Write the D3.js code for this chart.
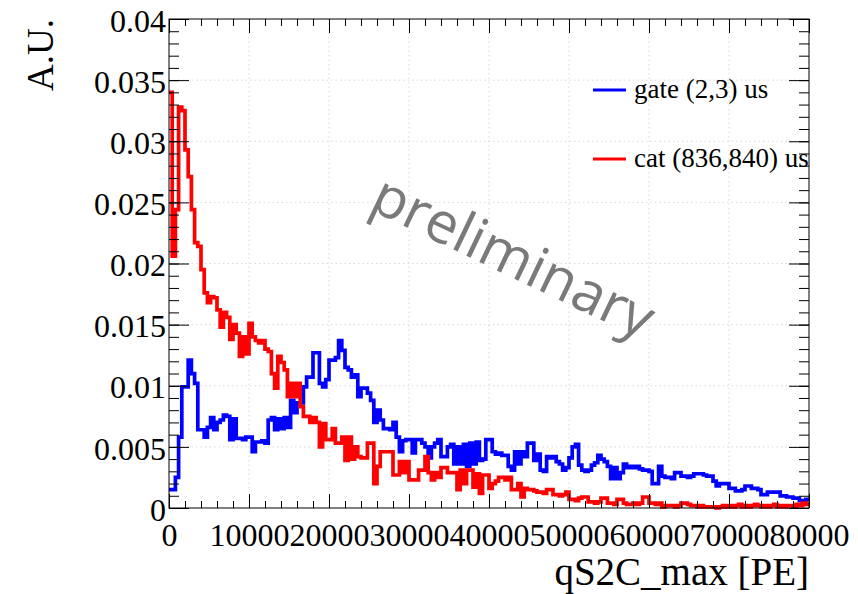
<!DOCTYPE html>
<html><head><meta charset="utf-8">
<script src="https://cdn.jsdelivr.net/npm/d3@7"></script>
<style>html,body{margin:0;padding:0;background:#fff;}svg{display:block;}</style>
</head><body>
<svg id="c" width="858" height="594"></svg>
<script>
// ---- data ----
const binStart = 0, binWidth = 400; // qS2C_max bins [PE]
const gateValues = [
0.0015,0.0015,0.0025,0.0058,0.0099,0.0099,0.0121,0.0110,0.0102,0.0064,
0.0064,0.0058,0.0066,0.0074,0.0064,0.0070,0.0072,0.0076,0.0075,0.0056,
0.0073,0.0057,0.0057,0.0056,0.0058,0.0058,0.0046,0.0054,0.0054,0.0055,
0.0053,0.0072,0.0074,0.0064,0.0073,0.0065,0.0074,0.0066,0.0088,0.0078,
0.0086,0.0086,0.0099,0.0107,0.0107,0.0127,0.0127,0.0102,0.0099,0.0105,
0.0121,0.0121,0.0123,0.0137,0.0129,0.0115,0.0113,0.0107,0.0109,0.0091,
0.0098,0.0098,0.0094,0.0088,0.0070,0.0080,0.0072,0.0065,0.0065,0.0064,
0.0070,0.0058,0.0046,0.0055,0.0056,0.0056,0.0045,0.0056,0.0056,0.0053,
0.0050,0.0041,0.0050,0.0053,0.0056,0.0042,0.0042,0.0050,0.0052,0.0036,
0.0050,0.0036,0.0052,0.0034,0.0053,0.0036,0.0054,0.0039,0.0040,0.0056,
0.0056,0.0046,0.0044,0.0045,0.0043,0.0043,0.0034,0.0031,0.0046,0.0036,
0.0046,0.0042,0.0053,0.0053,0.0039,0.0044,0.0031,0.0030,0.0042,0.0041,
0.0042,0.0038,0.0036,0.0031,0.0033,0.0041,0.0050,0.0052,0.0035,0.0031,
0.0030,0.0031,0.0035,0.0037,0.0043,0.0040,0.0038,0.0034,0.0024,0.0033,
0.0024,0.0029,0.0036,0.0033,0.0034,0.0033,0.0034,0.0032,0.0031,0.0031,
0.0030,0.0020,0.0020,0.0034,0.0026,0.0025,0.0025,0.0024,0.0029,0.0029,
0.0026,0.0026,0.0025,0.0026,0.0028,0.0028,0.0028,0.0027,0.0026,0.0026,
0.0022,0.0018,0.0020,0.0020,0.0020,0.0016,0.0016,0.0014,0.0014,0.0015,
0.0018,0.0018,0.0016,0.0016,0.0015,0.0011,0.0011,0.0013,0.0013,0.0013,
0.0013,0.0010,0.0010,0.0009,0.0009,0.0008,0.0008,0.0006,0.0005,0.0007
];
const catValues = [
0.0340,0.0206,0.0244,0.0328,0.0325,0.0293,0.0271,0.0244,0.0217,0.0214,
0.0195,0.0176,0.0168,0.0173,0.0172,0.0162,0.0148,0.0160,0.0156,0.0138,
0.0150,0.0143,0.0124,0.0140,0.0126,0.0151,0.0140,0.0137,0.0135,0.0137,
0.0130,0.0128,0.0110,0.0098,0.0124,0.0119,0.0113,0.0091,0.0102,0.0091,
0.0102,0.0083,0.0075,0.0075,0.0070,0.0074,0.0070,0.0050,0.0069,0.0056,
0.0056,0.0065,0.0053,0.0053,0.0058,0.0039,0.0058,0.0040,0.0050,0.0042,
0.0041,0.0041,0.0053,0.0053,0.0020,0.0034,0.0046,0.0046,0.0046,0.0046,
0.0027,0.0027,0.0038,0.0029,0.0038,0.0023,0.0023,0.0023,0.0031,0.0031,
0.0042,0.0029,0.0023,0.0029,0.0025,0.0033,0.0033,0.0029,0.0029,0.0029,
0.0015,0.0031,0.0020,0.0031,0.0031,0.0017,0.0028,0.0012,0.0027,0.0027,
0.0016,0.0020,0.0022,0.0025,0.0025,0.0023,0.0025,0.0015,0.0015,0.0020,
0.0009,0.0016,0.0015,0.0015,0.0014,0.0013,0.0013,0.0012,0.0015,0.0015,
0.0011,0.0011,0.0010,0.0011,0.0013,0.0007,0.0007,0.0006,0.0008,0.0009,
0.0009,0.0005,0.0005,0.0004,0.0005,0.0008,0.0008,0.0004,0.0004,0.0003,
0.0007,0.0007,0.0004,0.0003,0.0003,0.0004,0.0003,0.0004,0.0009,0.0009,
0.0004,0.0004,0.0003,0.0004,0.0001,0.0002,0.0002,0.0002,0.0001,0.0002,
0.0004,0.0004,0.0003,0.0002,0.0002,0.0001,0.0002,0.0001,0.0001,0.0001,
0.0001,0.0000,0.0001,0.0002,0.0001,0.0002,0.0001,0.0002,0.0003,0.0001,
0.0002,0.0001,0.0002,0.0003,0.0002,0.0001,0.0002,0.0001,0.0002,0.0003,
0.0001,0.0002,0.0001,0.0002,0.0002,0.0001,0.0003,0.0002,0.0004,0.0003
];
const xTicks = [0,10000,20000,30000,40000,50000,60000,70000,80000];
const xTickLabels = ["0","10000","20000","30000","40000","50000","60000","70000","80000"];
const yTicks = [0,0.005,0.01,0.015,0.02,0.025,0.03,0.035,0.04];
const yTickLabels = ["0","0.005","0.01","0.015","0.02","0.025","0.03","0.035","0.04"];
const seriesNames = ["gate (2,3) us","cat (836,840) us"];
const seriesColors = ["#0000ff","#ff0000"];

// ---- layout ----
const L = 169, R = 809, T = 19, B = 508;
const svg = d3.select("#c");
const x = d3.scaleLinear().domain([0,80000]).range([L,R]);
const y = d3.scaleLinear().domain([0,0.04]).range([B,T]);
const serif = "Liberation Serif, Times New Roman, Times, serif";

// grid
const g = svg.append("g");
g.selectAll("line.gx").data(xTicks.slice(1,-1)).join("line")
 .attr("x1",d=>x(d)).attr("x2",d=>x(d)).attr("y1",T).attr("y2",B)
 .attr("stroke","#d8d8d8").attr("stroke-width",1).attr("stroke-dasharray","1.5,3");
g.selectAll("line.gy").data(yTicks.slice(1,-1)).join("line")
 .attr("y1",d=>y(d)).attr("y2",d=>y(d)).attr("x1",L).attr("x2",R)
 .attr("stroke","#d8d8d8").attr("stroke-width",1).attr("stroke-dasharray","1.5,3");

// histograms
function pts(vals){
  const p = vals.map((v,i)=>[binStart+i*binWidth, v]);
  p.push([binStart+vals.length*binWidth, vals[vals.length-1]]);
  return p;
}
const line = d3.line().x(d=>x(d[0])).y(d=>y(d[1])).curve(d3.curveStepAfter);
[gateValues,catValues].forEach((vals,k)=>{
  svg.append("path").attr("d",line(pts(vals))).attr("fill","none")
   .attr("stroke",seriesColors[k]).attr("stroke-width",3.7).attr("stroke-linejoin","miter");
});

// axes
const xMinor = d3.range(0,80001,2000);
const yMinor = d3.range(0,41).map(i=>i*0.001);
function styleAxis(sel){
  sel.attr("font-family",null).attr("font-size",null);
  sel.select(".domain").remove();
  sel.selectAll(".tick line").attr("stroke","#000").attr("stroke-width",1);
}

svg.append("g").attr("transform",`translate(0,${B})`)
 .call(d3.axisBottom(x).tickValues(xMinor).tickSize(-7).tickFormat("")).call(styleAxis);
svg.append("g").attr("transform",`translate(0,${T})`)
 .call(d3.axisTop(x).tickValues(xMinor).tickSize(-7).tickFormat("")).call(styleAxis);
svg.append("g").attr("transform",`translate(${L},0)`)
 .call(d3.axisLeft(y).tickValues(yMinor).tickSize(-10).tickFormat("")).call(styleAxis);
svg.append("g").attr("transform",`translate(${R},0)`)
 .call(d3.axisRight(y).tickValues(yMinor).tickSize(-10).tickFormat("")).call(styleAxis);

const xb = svg.append("g").attr("transform",`translate(0,${B})`)
 .call(d3.axisBottom(x).tickValues(xTicks).tickSize(-14).tickPadding(15)
   .tickFormat((d,i)=>xTickLabels[i])).call(styleAxis);
xb.selectAll("text").style("font-family",serif).style("font-size","32px").attr("fill","#000");
svg.append("g").attr("transform",`translate(0,${T})`)
 .call(d3.axisTop(x).tickValues(xTicks).tickSize(-14).tickFormat("")).call(styleAxis);
const yl = svg.append("g").attr("transform",`translate(${L},0)`)
 .call(d3.axisLeft(y).tickValues(yTicks).tickSize(-20).tickPadding(3)
   .tickFormat((d,i)=>yTickLabels[i])).call(styleAxis);
yl.selectAll("text").style("font-family",serif).style("font-size","32px").attr("fill","#000").attr("dy","0.38em");
svg.append("g").attr("transform",`translate(${R},0)`)
 .call(d3.axisRight(y).tickValues(yTicks).tickSize(-20).tickFormat("")).call(styleAxis);

// frame
svg.append("rect").attr("x",L).attr("y",T).attr("width",R-L).attr("height",B-T)
 .attr("fill","none").attr("stroke","#000").attr("stroke-width",1);

// titles
svg.append("text").attr("transform",`translate(53,${T}) rotate(-90)`)
 .attr("text-anchor","end").style("font-family",serif).style("font-size","37px").text("A.U.");
svg.append("text").attr("x",R).attr("y",585).attr("text-anchor","end")
 .style("font-family",serif).style("font-size","39px").text("qS2C_max [PE]");

// legend
const legY = [90,159];
seriesNames.forEach((n,k)=>{
  svg.append("line").attr("x1",593).attr("x2",626).attr("y1",legY[k]).attr("y2",legY[k])
   .attr("stroke",seriesColors[k]).attr("stroke-width",3);
  svg.append("text").attr("x",634).attr("y",legY[k]+8).style("font-family",serif)
   .style("font-size","27px").attr("fill","#000").text(n);
});

// watermark
svg.append("text").attr("transform","translate(510,264) rotate(25.5)")
 .attr("text-anchor","middle").attr("dy","0.2em")
 .style("font-family","Open Sans, DejaVu Sans, sans-serif").style("font-size","57px")
 .attr("fill","#7a7a7a").text("preliminary");
</script>
</body></html>
